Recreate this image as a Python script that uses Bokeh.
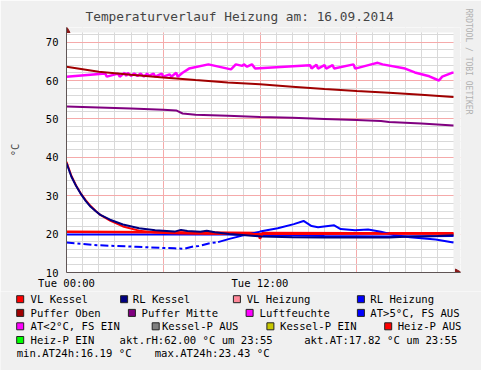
import math
from bokeh.plotting import figure
from bokeh.models import Range1d, FixedTicker, Title
from bokeh.layouts import column, row
from bokeh.embed import file_html
from bokeh.resources import INLINE
from bokeh.core.properties import value

# ---------------- data (hours since Tue 00:00, values in °C / %) ----------------
title_text = "Temperaturverlauf Heizung am: 16.09.2014"
x_tick_hours = [0, 12]
x_tick_labels = ["Tue 00:00", "Tue 12:00"]
y_ticks = [10, 20, 30, 40, 50, 60, 70]

puffer_oben_t = [0, 2, 4, 6, 8, 10, 12, 14, 16, 18, 20, 22, 24]
puffer_oben = [63.6, 62.3, 61.5, 60.8, 60.1, 59.5, 59.0, 58.4, 57.8, 57.25, 56.8, 56.3, 55.7]

puffer_mitte_t = [0, 2, 4, 6, 6.8, 7.2, 8, 10, 12, 14, 16, 18, 19.5, 20, 22, 24]
puffer_mitte = [53.2, 53.0, 52.7, 52.4, 52.2, 51.4, 51.1, 50.8, 50.5, 50.3, 50.0, 49.7, 49.45, 49.2, 48.8, 48.3]

luft_t = [0, 2.4, 2.5, 3.2, 3.3, 3.6, 3.7, 3.8, 4.0, 4.2, 4.4, 4.6, 4.8, 5.0, 5.1, 5.4, 5.5,
          5.9, 6.0, 6.4, 6.5, 6.8, 6.9, 7.2, 7.6, 8.8, 10.2, 10.5, 10.9, 11.0, 11.2, 11.5,
          11.7, 15.1, 15.2, 15.5, 15.6, 16.0, 16.1, 16.5, 16.6, 17.8, 17.9, 18.9, 19.3,
          19.6, 21.0, 21.6, 22.5, 23.1, 23.3, 23.9, 24.0]
luftfeuchte = [61.0, 61.8, 61.0, 61.8, 61.0, 62.0, 61.2, 62.0, 61.2, 61.8, 61.2, 61.8, 61.0,
               61.8, 61.2, 61.8, 61.0, 61.8, 61.0, 61.6, 61.0, 62.0, 61.0, 62.0, 63.1, 64.2,
               62.9, 64.2, 63.8, 64.2, 63.6, 64.2, 63.1, 64.0, 63.1, 64.1, 63.1, 64.0, 63.1,
               64.0, 63.1, 64.2, 63.1, 64.2, 64.6, 64.2, 63.1, 62.1, 61.1, 60.0, 61.0, 62.0, 62.0]

vl_kessel_t = [0, 0.3, 0.6, 0.9, 1.2, 1.5, 1.8, 2.1, 2.7, 3.5, 4.5, 5.5, 6.5, 8, 10, 12, 14, 16, 18, 20, 22, 24]
vl_kessel = [38.8, 35.2, 32.6, 30.5, 28.8, 27.3, 26.1, 25.0, 23.5, 22.0, 20.9, 20.4, 20.2, 20.1,
             20.0, 20.0, 20.0, 20.0, 20.1, 20.1, 20.1, 20.1]

rl_kessel_t = [0, 0.3, 0.6, 0.9, 1.2, 1.5, 1.8, 2.1, 2.7, 3.5, 4.5, 5.5, 6.7, 7.1, 7.5, 8.3, 8.7,
               9.2, 10.1, 12.1, 14, 16, 18, 20, 21, 22, 23, 24]
rl_kessel = [38.5, 35.0, 32.5, 30.4, 28.6, 27.1, 26.0, 25.0, 23.75, 22.5, 21.5, 21.0, 20.65, 21.1,
             20.8, 20.6, 20.9, 20.5, 20.0, 19.4, 19.2, 19.1, 19.1, 19.1, 19.3, 19.4, 19.5, 19.7]

vl_heizung_t = [0, 6, 11.9, 12.0, 12.15, 18, 24]
vl_heizung = [20.6, 20.5, 20.3, 18.8, 20.3, 20.2, 20.2]

rl_heizung_t = [0, 6, 10, 12, 16, 20, 24]
rl_heizung = [19.9, 19.9, 19.9, 19.7, 19.5, 19.4, 19.5]

at_t = [0, 1.9, 4.3, 5.9, 6.7, 7.3, 7.9, 8.2, 8.9, 9.4, 10.1, 10.9, 12.0, 13.1, 14.1, 14.7,
        15.2, 15.6, 16.6, 17.0, 17.9, 18.7, 19.5, 20.3, 21.3, 22.9, 23.9, 24.0]
at = [17.8, 17.1, 16.7, 16.4, 16.3, 16.19, 16.8, 16.9, 17.65, 17.9, 18.75, 19.6, 20.65, 21.5,
      22.6, 23.43, 22.1, 21.8, 22.3, 21.3, 21.0, 21.2, 20.6, 19.75, 19.15, 18.6, 17.9, 17.82]
at_dash_until = 9.4

legend_labels = ["VL Kessel", "RL Kessel", "VL Heizung", "RL Heizung",
                 "Puffer Oben", "Puffer Mitte", "Luftfeuchte", "AT>5°C, FS AUS",
                 "AT<2°C, FS EIN", "Kessel-P AUS", "Kessel-P EIN", "Heiz-P AUS",
                 "Heiz-P EIN"]
legend_colors = ["#FF0000", "#000080", "#FF8899", "#0000FF",
                 "#A00000", "#800080", "#FF00FF", "#0000FF",
                 "#FF00FF", "#808080", "#C8C800", "#FF0000",
                 "#00FF00"]
last_time = "23:55"

# ---------------- styling / layout ----------------
FONT = "DejaVu Sans Mono"
BG = "#f0f0f0"
AXIS = "#5f5555"
ARROW = "#8b1a1a"
MAJOR = "#f5aaaa"
MINOR = "#d9d9d9"

T0, T1 = 0, 24          # time span of the white canvas
V0, V1 = 10, 72.5       # value span of the white canvas
PX_H = 16.125           # px per hour
PX_V = 3.84             # px per °C
FL, FR, FT, FB = 66, 21, 27, 18     # borders of the frame
FW, FH = 481 - FL - FR, 245
x_hi = T0 + FW / PX_H
y_hi = V0 + FH / PX_V

p = figure(frame_width=FW, frame_height=FH, x_range=Range1d(T0, x_hi), y_range=Range1d(V0, y_hi),
           output_backend="svg", toolbar_location=None,
           min_border_left=FL, min_border_right=FR, min_border_top=FT, min_border_bottom=FB)
try:
    p.frame_align = False
except Exception:
    pass
p.border_fill_color = BG
p.background_fill_color = "#ffffff"
p.outline_line_color = None

p.title.text = title_text
p.title.text_font = FONT
p.title.text_font_size = "12.8px"
p.title.text_font_style = "normal"
p.title.align = "left"
p.title.offset = 19
p.title.standoff = 7

p.add_layout(Title(text="RRDTOOL / TOBI OETIKER", align="left", offset=-19, standoff=6,
                   text_font=FONT, text_font_size="8px", text_font_style="normal",
                   text_color="#b0b0b0"), "right")

p.xaxis.ticker = FixedTicker(ticks=x_tick_hours)
p.xaxis.major_label_overrides = {h: l for h, l in zip(x_tick_hours, x_tick_labels)}
p.yaxis.ticker = FixedTicker(ticks=y_ticks)
p.yaxis.axis_label = "°C"
p.yaxis.axis_label_text_font = FONT
p.yaxis.axis_label_text_font_size = "10.5px"
p.yaxis.axis_label_text_font_style = "normal"
p.yaxis.axis_label_standoff = 22
for ax in (p.xaxis, p.yaxis):
    ax.major_label_text_font = FONT
    ax.major_label_text_font_size = "10.5px"
    ax.major_tick_line_color = None
    ax.minor_tick_line_color = None
    ax.major_tick_out = 0
    ax.major_tick_in = 0
    ax.minor_tick_out = 0
    ax.minor_tick_in = 0
    ax.axis_line_color = AXIS
    ax.major_label_text_color = "#000000"
p.xaxis.major_label_standoff = 4
p.yaxis.major_label_standoff = 8

p.xgrid.ticker = FixedTicker(ticks=[0, 6, 12, 18], minor_ticks=[h for h in range(1, 24) if h % 6])
p.ygrid.ticker = FixedTicker(ticks=y_ticks, minor_ticks=[v for v in range(12, 73, 2) if v % 10])
for g in (p.xgrid, p.ygrid):
    g.grid_line_color = MAJOR
    g.minor_grid_line_color = MINOR
    g.level = "underlay"

# grey margins above and right of the white canvas (hide grid overflow)
p.quad(left=[T0, T1], right=[x_hi, x_hi], bottom=[V1, V0], top=[y_hi, y_hi],
       fill_color=BG, line_color=None)

LW = 2
p.line(luft_t, luftfeuchte, color="#FF00FF", line_width=2.5)
p.line(puffer_oben_t, puffer_oben, color="#A00000", line_width=LW)
p.line(puffer_mitte_t, puffer_mitte, color="#800080", line_width=LW)
p.line(rl_heizung_t, rl_heizung, color="#0000FF", line_width=LW)
p.line(vl_heizung_t, vl_heizung, color="#FF0000", line_width=2.5)
n_dash = sum(1 for t in at_t if t <= at_dash_until)
p.line(at_t[:n_dash], at[:n_dash], color="#0000FF", line_width=LW, line_dash="8 3 3 3")
p.line(at_t[n_dash - 1:], at[n_dash - 1:], color="#0000FF", line_width=LW)
p.line(vl_kessel_t, vl_kessel, color="#FF0000", line_width=LW)
p.line(rl_kessel_t, rl_kessel, color="#000080", line_width=LW)

# axis arrow heads
p.scatter(x=[T0, x_hi - 3 / PX_H], y=[y_hi - 3 / PX_V, V0], marker="triangle", size=7,
          angle=[0, -math.pi / 2], fill_color=ARROW, line_color=ARROW)

# ---------------- legend panel ----------------
LH = 79
leg = figure(width=481, height=LH, x_range=Range1d(0, 481), y_range=Range1d(LH, 0),
             output_backend="svg", toolbar_location=None, min_border=0,
             x_axis_type=None, y_axis_type=None, title=None)
try:
    leg.frame_align = False
except Exception:
    pass
leg.border_fill_color = BG
leg.background_fill_color = BG
leg.outline_line_color = None
leg.grid.visible = False

row_y = [7.7, 21.4, 34.8, 48.5, 61.3]
sq_x = [19.7, 123.6, 236.4, 360.4, 19.7, 131.4, 249.1, 360.4, 19.7, 155.2, 269.9, 387.7, 19.7]
tx_x = [30.0, 132.3, 246.2, 369.8, 30.0, 141.0, 259.1, 369.8, 30.0, 161.4, 279.5, 397.2, 30.0]
rows = [0, 0, 0, 0, 1, 1, 1, 1, 2, 2, 2, 2, 3]
ys = [row_y[r] for r in rows]
leg.rect(x=sq_x, y=ys, width=7, height=7, fill_color=legend_colors, line_color="#222222", line_width=1)
TS = "10.6px"
leg.text(x=tx_x, y=ys, text=legend_labels, text_font=value(FONT), text_font_size=TS,
         text_baseline="middle", text_align="left", text_color="#000000")

stats = [
    f"akt.rH:{luftfeuchte[-1]:.2f} °C um {last_time}",
    f"akt.AT:{at[-1]:.2f} °C um {last_time}",
    f"min.AT24h:{min(at):.2f} °C",
    f"max.AT24h:{max(at):.2f} °C",
]
leg.text(x=[119.1, 303.7, 16.2, 154.2], y=[row_y[3], row_y[3], row_y[4], row_y[4]], text=stats,
         text_font=value(FONT), text_font_size=TS, text_baseline="middle", text_align="left",
         text_color="#000000")

layout = column(p, row(leg), spacing=0)
open("out.html", "w").write(file_html(layout, INLINE))
